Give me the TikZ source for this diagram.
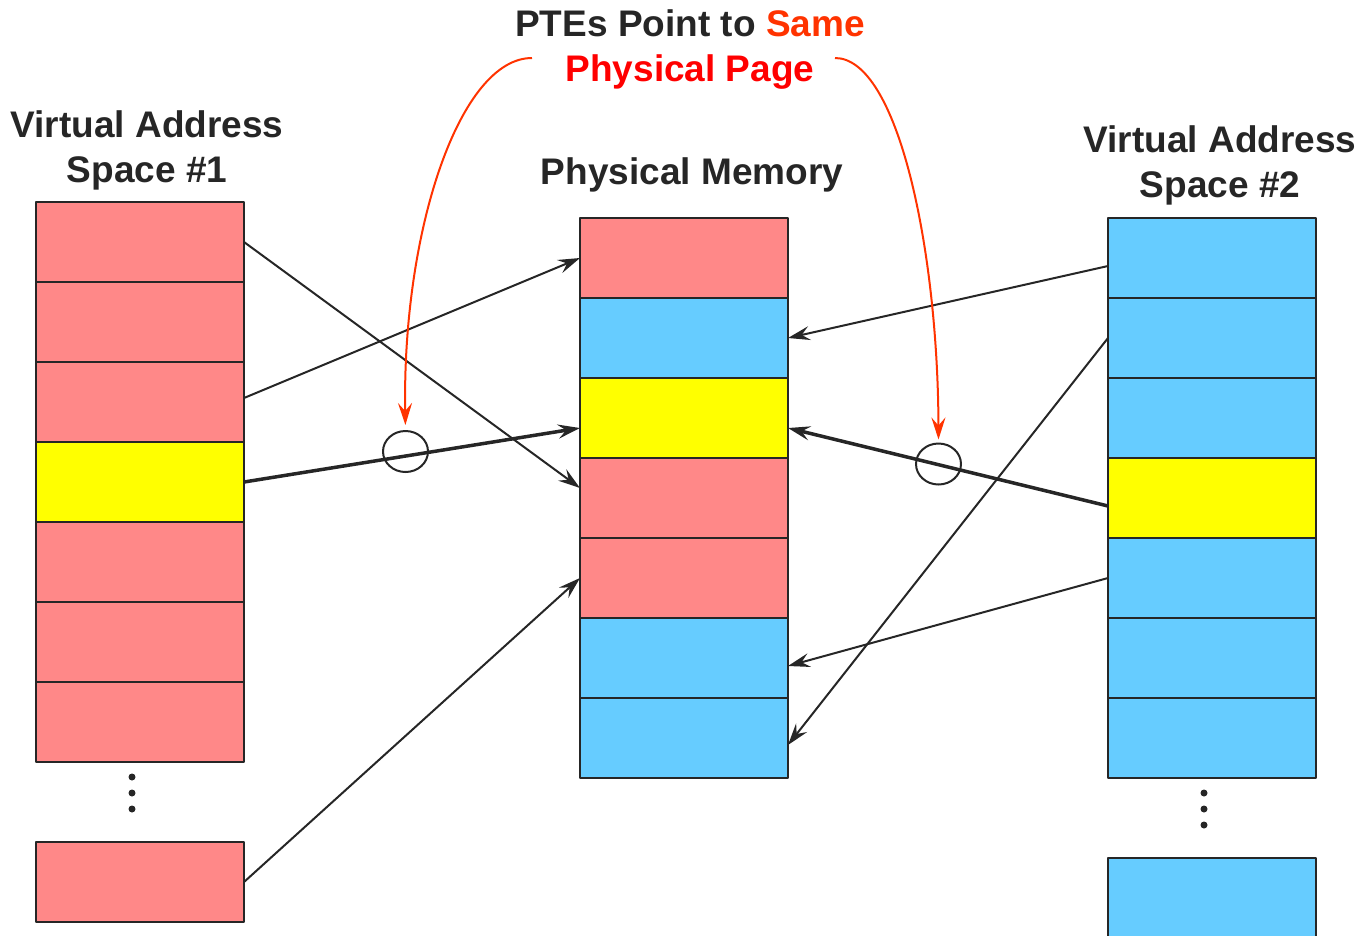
\documentclass[tikz,border=0pt]{standalone}
\usepackage{fontspec}
\setmainfont{Liberation Sans}
\usetikzlibrary{arrows.meta,shapes.geometric}
\definecolor{pagered}{HTML}{FF8888}
\definecolor{pageblue}{HTML}{66CCFF}
\definecolor{pageyellow}{HTML}{FFFF00}
\definecolor{inkdark}{HTML}{262626}
\definecolor{noteorange}{HTML}{FF3300}
\definecolor{notered}{HTML}{FF0000}

\begin{document}
\begin{tikzpicture}[x=1pt,y=-1pt,>={Stealth[length=22pt,width=14pt,inset=8pt]},
                    line join=round]
  \tikzstyle{pagebox}=[draw=inkdark,line width=2pt,minimum width=208pt,minimum height=80pt,inner sep=0pt,outer sep=0pt]
  \tikzstyle{heading}=[text=inkdark,font=\fontsize{37}{45}\selectfont\bfseries,align=center,inner sep=0pt]
  \tikzstyle{map}=[->,draw=inkdark,line width=2pt]
  \tikzstyle{shared}=[->,draw=inkdark,line width=3.5pt]
  \tikzstyle{ring}=[draw=inkdark,ellipse,line width=2pt,minimum width=45pt,minimum height=41pt,inner sep=0pt]
  \tikzstyle{note}=[->,draw=noteorange,line width=2pt]

  \useasboundingbox (0,0) rectangle (1360,935);

  % address spaces and physical memory
  \foreach \c [count=\i] in {pagered,pagered,pagered,pageyellow,pagered,pagered,pagered}
    \node[pagebox,fill=\c] (v1p\i) at (140,{162+80*\i}) {};
  \node[pagebox,fill=pagered] (v1p8) at (140,882) {};

  \foreach \c [count=\i] in {pagered,pageblue,pageyellow,pagered,pagered,pageblue,pageblue}
    \node[pagebox,fill=\c] (pm\i) at (684,{178+80*\i}) {};

  \foreach \c [count=\i] in {pageblue,pageblue,pageblue,pageyellow,pageblue,pageblue,pageblue}
    \node[pagebox,fill=\c] (v2p\i) at (1212,{178+80*\i}) {};
  \node[pagebox,fill=pageblue] (v2p8) at (1212,898) {};

  \foreach \y in {777,793,809} \fill[inkdark] (132,\y) circle (3.5pt);
  \foreach \y in {793,809,825} \fill[inkdark] (1204,\y) circle (3.5pt);

  % headings
  \node[heading] (h1) at (147,150) {Virtual Address\\Space \#1};
  \node[heading] (h2) at (692,175) {Physical Memory};
  \node[heading] (h3) at (1220,165) {Virtual Address\\Space \#2};
  \node[heading] (msg) at (690,50) {PTEs Point to \textcolor{noteorange}{Same}\\\textcolor{notered}{Physical Page}};

  % page table mappings
  \draw[map] (v1p1.east) -- ([yshift=10pt]pm4.west);
  \draw[map] ([yshift=4pt]v1p3.east) -- (pm1.west);
  \draw[shared] (v1p4.east) -- ([yshift=-10pt]pm3.west);
  \draw[map] (v1p8.east) -- (pm5.west);
  \draw[map] ([yshift=-8pt]v2p1.west) -- (pm2.east);
  \draw[map] (v2p2.west) -- ([yshift=-7pt]pm7.east);
  \draw[shared] ([yshift=-8pt]v2p4.west) -- ([yshift=-10pt]pm3.east);
  \draw[map] (v2p5.west) -- ([yshift=-8pt]pm6.east);

  \node[ring] (r1) at (405.5,451.5) {};
  \node[ring] (r2) at (938.5,464) {};

  \coordinate (n1) at (532,58);
  \coordinate (n2) at (835,58);
  \draw[note,shorten >=5pt] (n1) .. controls (460,58) and (402,230) .. (r1.north);
  \draw[note,shorten >=3pt] (n2) .. controls (898,58) and (938,250) .. (r2.north);
\end{tikzpicture}
\end{document}
